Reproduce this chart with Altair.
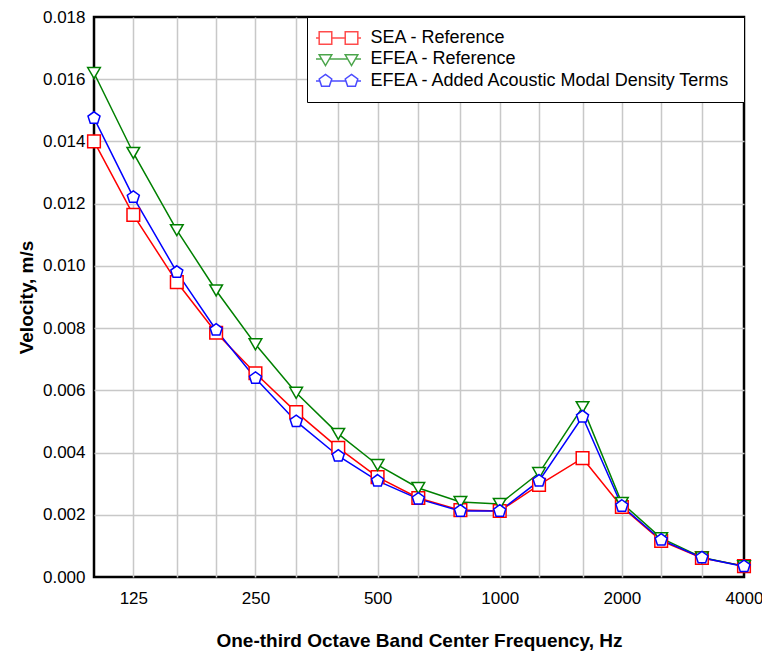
import altair as alt
import pandas as pd

freqs = [100, 125, 160, 200, 250, 315, 400, 500, 630, 800, 1000, 1250, 1600, 2000, 2500, 3150, 4000]
sea_ref = [0.01400, 0.01164, 0.00948, 0.00785, 0.00655, 0.00530, 0.00415, 0.00321, 0.00254, 0.00215,
           0.00212, 0.00296, 0.00382, 0.00225, 0.00116, 0.00061, 0.00035]
efea_ref = [0.01620, 0.01363, 0.01115, 0.00921, 0.00748, 0.00592, 0.00460, 0.00360, 0.00286, 0.00241,
            0.00235, 0.00334, 0.00546, 0.00238, 0.00125, 0.00063, 0.00035]
efea_added = [0.01475, 0.01221, 0.00980, 0.00794, 0.00639, 0.00500, 0.00389, 0.00309, 0.00251, 0.00212,
              0.00212, 0.00309, 0.00515, 0.00228, 0.00119, 0.00062, 0.00034]

series_names = ["SEA - Reference", "EFEA - Reference", "EFEA - Added Acoustic Modal Density Terms"]
series_colors = ["#FF0000", "#008000", "#0000FF"]
x_labels = [125, 250, 500, 1000, 2000, 4000]
y_ticks = [0.0, 0.002, 0.004, 0.006, 0.008, 0.010, 0.012, 0.014, 0.016, 0.018]

rows = []
for name, vals in zip(series_names, [sea_ref, efea_ref, efea_added]):
    for f, v in zip(freqs, vals):
        rows.append({"freq": f, "vel": v, "series": name, "series_l": name})
df = pd.DataFrame(rows)

pentagon = "M0,-1L0.951,-0.309L0.588,0.809L-0.588,0.809L-0.951,-0.309Z"
marker_shapes = ["square", "triangle-down", pentagon]

leg_square = ("M-3.75,0H-3.22M-1.12,0H1.12M3.22,0H3.75"
              "M-3.22,-1.05H-1.12V1.05H-3.22Z M1.12,-1.05H3.22V1.05H1.12Z")
leg_tri = ("M-3.75,0H-2.81M-1.53,0H1.53M2.81,0H3.75"
           "M-3.22,-0.7H-1.12L-2.17,1.1Z M1.12,-0.7H3.22L2.17,1.1Z")
leg_pent = ("M-3.75,0H-3.106M-1.234,0H1.234M3.106,0H3.75"
            "M-2.17,-1.1L-1.124,-0.34L-1.523,0.89L-2.817,0.89L-3.216,-0.34Z"
            "M2.17,-1.1L3.216,-0.34L2.817,0.89L1.523,0.89L1.124,-0.34Z")
legend_shapes = [leg_square, leg_tri, leg_pent]

FONT = "Arial, Liberation Sans, sans-serif"
label_test = "indexof([" + ",".join(str(v) for v in x_labels) + "], datum.value) >= 0"

x_enc = alt.X(
    "freq:Q",
    scale=alt.Scale(type="log", domain=[100, 4000], nice=False),
    axis=alt.Axis(
        values=freqs,
        format="d",
        labelExpr=label_test + " ? datum.label : ''",
        title="One-third Octave Band Center Frequency, Hz",
        grid=True,
        gridColor="#c8c8c8",
        gridWidth=1.5,
        gridOpacity={"condition": {"test": "datum.value <= 100 || datum.value >= 4000", "value": 0}, "value": 1},
        domain=False,
        ticks=False,
        labelPadding=13,
        labelFontSize=17,
        labelFont=FONT,
        labelColor="black",
        labelFlush=False,
        labelOverlap=False,
        titleFontSize=19,
        titleFont=FONT,
        titleFontWeight="bold",
        titleColor="black",
        titlePadding=25,
    ),
)
y_enc = alt.Y(
    "vel:Q",
    scale=alt.Scale(domain=[0, 0.018], nice=False),
    axis=alt.Axis(
        values=y_ticks,
        format=".3f",
        title="Velocity, m/s",
        grid=True,
        gridColor="#c8c8c8",
        gridWidth=1.5,
        gridOpacity={"condition": {"test": "datum.value <= 0 || datum.value >= 0.0179", "value": 0}, "value": 1},
        domain=False,
        ticks=False,
        labelPadding=9,
        labelFontSize=17,
        labelFont=FONT,
        labelColor="black",
        labelFlush=False,
        titleFontSize=19,
        titleFont=FONT,
        titleFontWeight="bold",
        titleColor="black",
        titlePadding=6,
    ),
)

color_scale = alt.Scale(domain=series_names, range=series_colors)

lines = alt.Chart(df).mark_line(strokeWidth=1.5).encode(
    x=x_enc, y=y_enc,
    color=alt.Color("series:N", scale=color_scale, legend=None),
    detail="series:N",
)

points = alt.Chart(df).mark_point(filled=False, fill="white", fillOpacity=1, strokeWidth=1.5, size=160, opacity=1).encode(
    x="freq:Q", y="vel:Q",
    color=alt.Color("series:N", scale=color_scale, legend=None),
    shape=alt.Shape("series:N", scale=alt.Scale(domain=series_names, range=marker_shapes), legend=None),
)

legend_layer = alt.Chart(df).transform_filter("false").mark_point(filled=False, strokeWidth=1.5, size=144).encode(
    x="freq:Q", y="vel:Q",
    color=alt.Color("series_l:N", scale=alt.Scale(domain=series_names, range=series_colors),
                    legend=alt.Legend(
                        title=None,
                        orient="top-right",
                        offset=0,
                        padding=12,
                        rowPadding=2,
                        symbolSize=144,
                        symbolStrokeWidth=1.5,
                        symbolOffset=10.5,
                        labelOffset=23,
                        labelFontSize=18,
                        labelFont=FONT,
                        labelColor="black",
                        labelLimit=600,
                        fillColor="white",
                        strokeColor="black",
                    )),
    shape=alt.Shape("series_l:N", scale=alt.Scale(domain=series_names, range=legend_shapes)),
)

chart = alt.layer(lines, points, legend_layer).resolve_scale(
    color="independent", shape="independent"
).properties(
    width=650,
    height=560,
    background="white",
    autosize=alt.AutoSizeParams(type="none"),
    padding={"left": 86, "top": 9, "right": 18, "bottom": 74},
).configure_view(
    stroke="black",
    strokeWidth=2.5,
    fill="white",
)

chart.save("out.html", embed_options={"renderer": "svg", "actions": False})
